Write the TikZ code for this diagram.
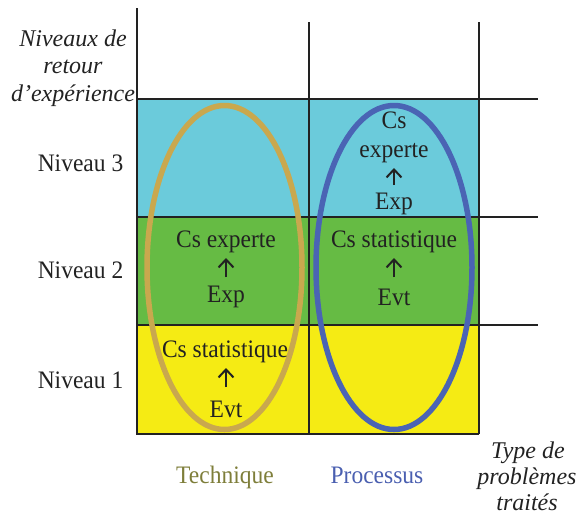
\documentclass[tikz,border=0pt]{standalone}
\usepackage{fontspec}
\setmainfont{Liberation Serif}
\usetikzlibrary{arrows.meta}
\definecolor{cyanf}{HTML}{6BCBDB}
\definecolor{greenf}{HTML}{66BB44}
\definecolor{yellowf}{HTML}{F5EB14}
\definecolor{tanc}{HTML}{C9A84E}
\definecolor{bluec}{HTML}{4A64B4}
\definecolor{olivet}{HTML}{7E7E3A}
\definecolor{bluet}{HTML}{4A5FB0}
\definecolor{inkc}{HTML}{222222}
\newcommand{\vs}[1]{\scalebox{1}[1.07]{#1}}
\begin{document}
\begin{tikzpicture}[x=1pt,y=-1pt,
  txt/.style={font=\fontsize{23.5}{26}\selectfont, text=inkc, inner sep=0pt, anchor=base},
  itl/.style={font=\fontsize{24}{26}\selectfont\itshape, text=inkc, inner sep=0pt, anchor=base},
  grid/.style={line width=1.5pt, draw=inkc},
  ell/.style={line width=5.5pt},
  up/.style={-{Straight Barb[length=8pt,width=15pt]}, line width=2pt, draw=inkc}]
\useasboundingbox (0,0) rectangle (586,515);
% fills
\fill[cyanf] (137,99) rectangle (479,217);
\fill[greenf] (137,217) rectangle (479,325);
\fill[yellowf] (137,325) rectangle (479,434);
% grid
\draw[grid] (137,8) -- (137,434) -- (479,434);
\draw[grid] (309,22) -- (309,434);
\draw[grid] (479,22) -- (479,434);
\draw[grid] (137,99) -- (538,99);
\draw[grid] (137,217) -- (538,217);
\draw[grid] (137,325) -- (538,325);
% ellipses
\draw[ell, tanc] (224.5,267.5) ellipse [x radius=77.5, y radius=162];
\draw[ell, bluec] (394,267.5) ellipse [x radius=78, y radius=162];
% axis labels
\node[itl] (yl1) at (73,46.5) {Niveaux de};
\node[itl] (yl2) at (73,73) {retour};
\node[itl] (yl3) at (73,101) {d’expérience};
\node[itl] (xl1) at (528,458) {Type de};
\node[itl] (xl2) at (527,484) {problèmes};
\node[itl] (xl3) at (527,510) {traités};
\node[txt] (n3) at (80.5,171) {\vs{Niveau 3}};
\node[txt] (n2) at (80.5,278) {\vs{Niveau 2}};
\node[txt] (n1) at (80.5,388) {\vs{Niveau 1}};
\node[txt, text=olivet] (tech) at (225,483) {\vs{Technique}};
\node[txt, text=bluet] (proc) at (377,483) {\vs{Processus}};
% technique column
\node[txt] (t2a) at (226,247) {\vs{Cs experte}};
\node[txt] (t2b) at (226,302) {\vs{Exp}};
\draw[up, shorten <=25pt, shorten >=11pt] (t2b.base) -- (t2a.base);
\node[txt] (t1a) at (225,357) {\vs{Cs statistique}};
\node[txt] (t1b) at (226,417) {\vs{Evt}};
\draw[up, shorten <=30pt, shorten >=11pt] (t1b.base) -- (t1b.base |- t1a.base);
% processus column
\node[txt] (p3a) at (394,128) {\vs{Cs}};
\node[txt] (p3b) at (394,157) {\vs{experte}};
\node[txt] (p3c) at (394,209) {\vs{Exp}};
\draw[up, shorten <=24pt, shorten >=11pt] (p3c.base) -- (p3b.base);
\node[txt] (p2a) at (394,247) {\vs{Cs statistique}};
\node[txt] (p2b) at (394,305) {\vs{Evt}};
\draw[up, shorten <=28pt, shorten >=11pt] (p2b.base) -- (p2a.base);
\end{tikzpicture}
\end{document}
